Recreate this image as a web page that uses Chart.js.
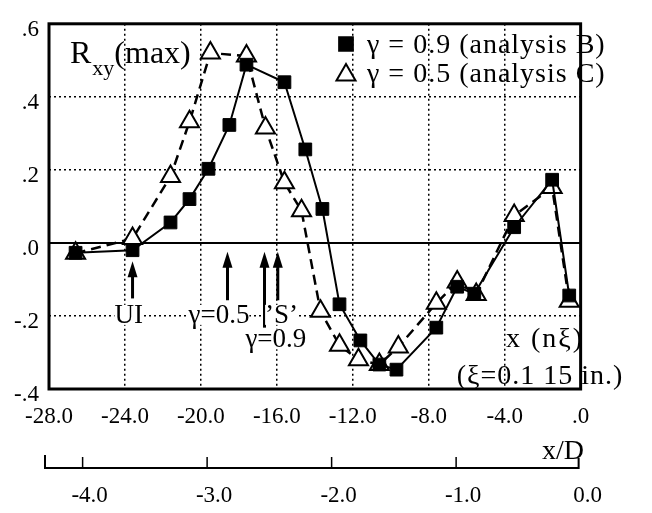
<!DOCTYPE html>
<html>
<head>
<meta charset="utf-8">
<script src="https://cdn.jsdelivr.net/npm/chart.js@4"></script>
<style>
  body { margin: 0; background: #fff; }
  canvas { display: block; }
</style>
</head>
<body>
<canvas id="chart" width="652" height="513"></canvas>
<script>
// gamma = 0.9 (analysis B), filled squares, solid line
const xB = [-26.6, -23.6, -21.6, -20.6, -19.6, -18.5, -17.6, -15.6, -14.5, -13.6, -12.7, -11.6, -10.6, -9.7, -7.6, -6.5, -5.6, -3.5, -1.5, -0.6];
const yB = [-0.027, -0.02, 0.056, 0.12, 0.203, 0.323, 0.488, 0.44, 0.256, 0.093, -0.168, -0.267, -0.333, -0.347, -0.232, -0.12, -0.139, 0.043, 0.173, -0.144];

// gamma = 0.5 (analysis C), open triangles, dashed line
const xC = [-26.6, -23.6, -21.6, -20.6, -19.5, -17.6, -16.6, -15.6, -14.7, -13.7, -12.7, -11.7, -10.6, -9.6, -7.6, -6.5, -5.5, -3.5, -1.5, -0.6];
const yC = [-0.028, 0.012, 0.182, 0.332, 0.52, 0.512, 0.315, 0.165, 0.088, -0.187, -0.28, -0.32, -0.333, -0.285, -0.165, -0.107, -0.141, 0.075, 0.152, -0.16];

const seriesLabels = ['γ = 0.9 (analysis B)', 'γ = 0.5 (analysis C)'];

// arrows below the zero line (x position, tip y, tail y) and their captions
const arrowX = [-23.6, -18.6, -16.65, -15.95];
const arrowTip = [-0.05, -0.024, -0.024, -0.024];
const arrowTail = [-0.152, -0.157, -0.232, -0.157];
const noteText = ['UI', 'γ=0.5', '’S’', 'γ=0.9'];
const noteX = [-23.8, -19.05, -15.75, -16.05];
const noteY = [-0.197, -0.197, -0.197, -0.264];

// second axis x/D
const xdMin = -4.27;
const xdMax = 0;

const serif = "'Liberation Serif', 'Times New Roman', serif";
Chart.defaults.font.family = serif;
Chart.defaults.font.size = 23;
Chart.defaults.color = '#000';

const near = (a, b) => Math.abs(a - b) < 1e-6;

function fmtY(v) {
    if (near(v, 0)) return '.0';
    return v.toFixed(1).replace(/^(-?)0\./, '$1.');
}

const extras = {
    id: 'extras',
    afterDatasetsDraw(chart) {
        const ctx = chart.ctx;
        const x = chart.scales.x, y = chart.scales.y, xd = chart.scales.x2;
        const a = chart.chartArea;
        ctx.save();
        ctx.fillStyle = '#000';
        ctx.strokeStyle = '#000';

        // frame
        ctx.lineWidth = 3;
        ctx.strokeRect(a.left, a.top, a.right - a.left, a.bottom - a.top);

        // R_xy(max)
        ctx.textBaseline = 'alphabetic';
        ctx.textAlign = 'left';
        ctx.font = '32px ' + serif;
        ctx.fillText('R', 70, 63);
        let w = ctx.measureText('R').width + 1;
        ctx.font = '22px ' + serif;
        ctx.fillText('xy', 70 + w, 75);
        w += ctx.measureText('xy').width;
        ctx.font = '32px ' + serif;
        ctx.fillText('(max)', 70 + w, 63);

        // legend
        ctx.font = '28px ' + serif;
        ctx.letterSpacing = '1px';
        ctx.fillText(seriesLabels[0], 367, 53);
        ctx.fillText(seriesLabels[1], 367, 82);
        ctx.letterSpacing = '0px';
        Chart.helpers.drawPoint(ctx, {pointStyle: 'rect', radius: 9, borderWidth: 1}, 346, 44);
        ctx.fill();
        ctx.lineWidth = 2;
        ctx.fillStyle = '#fff';
        Chart.helpers.drawPoint(ctx, {pointStyle: 'triangle', radius: 11, borderWidth: 2}, 346, 75);
        ctx.fillStyle = '#000';

        // arrows
        ctx.lineWidth = 3;
        arrowX.forEach((v, i) => {
            const px = x.getPixelForValue(v);
            const tip = y.getPixelForValue(arrowTip[i]);
            const tail = y.getPixelForValue(arrowTail[i]);
            ctx.beginPath();
            ctx.moveTo(px, tail);
            ctx.lineTo(px, tip + 10);
            ctx.stroke();
            ctx.beginPath();
            ctx.moveTo(px, tip);
            ctx.lineTo(px - 5, tip + 16);
            ctx.lineTo(px + 5, tip + 16);
            ctx.closePath();
            ctx.fill();
        });
        ctx.font = '27px ' + serif;
        ctx.textAlign = 'center';
        ctx.textBaseline = 'middle';
        noteText.forEach((t, i) => {
            const px = x.getPixelForValue(noteX[i]);
            const py = y.getPixelForValue(noteY[i]);
            ctx.fillStyle = '#fff';
            const tw = ctx.measureText(t).width;
            ctx.fillRect(px - tw / 2, py - 10, tw, 20);
            ctx.fillStyle = '#000';
            ctx.fillText(t, px, py + 1);
        });

        // axis captions inside the plot
        ctx.font = '28px ' + serif;
        ctx.letterSpacing = '2px';
        ctx.fillText('x (nξ)', 545, 340);
        ctx.letterSpacing = '1px';
        ctx.fillText('(ξ=0.1 15 in.)', 540, 377);
        ctx.letterSpacing = '0px';

        // x/D bracket
        const by = xd.top + 43;
        const l = xd.getPixelForValue(xdMin) - 4;
        const r = xd.getPixelForValue(xdMax) - 2;
        ctx.lineWidth = 2;
        ctx.beginPath();
        ctx.moveTo(l, by - 13);
        ctx.lineTo(l, by);
        ctx.lineTo(r, by);
        ctx.lineTo(r, by - 10);
        ctx.stroke();
        ctx.lineWidth = 1.5;
        xd.ticks.forEach(t => {
            if (near(t.value, xdMax)) return;
            const px = xd.getPixelForValue(t.value);
            ctx.beginPath();
            ctx.moveTo(px, by);
            ctx.lineTo(px, by - 11);
            ctx.stroke();
        });
        ctx.font = '28px ' + serif;
        ctx.fillText('x/D', 563, 452);
        ctx.restore();
    }
};

new Chart(document.getElementById('chart'), {
    type: 'line',
    data: {
        datasets: [
            {
                label: seriesLabels[0],
                data: xB.map((v, i) => ({x: v, y: yB[i]})),
                borderColor: '#000',
                borderWidth: 2,
                pointStyle: 'rect',
                pointRadius: 9,
                pointBackgroundColor: '#000',
                pointBorderColor: '#000',
                pointBorderWidth: 1,
                tension: 0
            },
            {
                label: seriesLabels[1],
                data: xC.map((v, i) => ({x: v, y: yC[i]})),
                borderColor: '#000',
                borderWidth: 2.5,
                borderDash: [10, 6],
                pointStyle: 'triangle',
                pointRadius: 11,
                pointBackgroundColor: '#fff',
                pointBorderColor: '#000',
                pointBorderWidth: 2,
                tension: 0
            }
        ]
    },
    options: {
        responsive: false,
        animation: false,
        layout: { padding: { left: 0, top: 13, right: 25, bottom: 0 } },
        plugins: {
            legend: { display: false },
            tooltip: { enabled: false }
        },
        scales: {
            x: {
                type: 'linear',
                position: 'bottom',
                min: -28,
                max: 0,
                afterFit: s => { s.height = 36; },
                ticks: {
                    stepSize: 4,
                    includeBounds: false,
                    padding: 14,
                    maxRotation: 0,
                    callback: v => near(v, 0) ? '.0' : v.toFixed(1)
                },
                grid: {
                    drawTicks: false,
                    color: '#000',
                    lineWidth: c => (near(c.tick.value, -28) || near(c.tick.value, 0)) ? 0 : 1.5
                },
                border: { display: false, dash: [2, 3] }
            },
            x2: {
                type: 'linear',
                position: 'bottom',
                min: xdMin,
                max: xdMax,
                afterFit: s => { s.height = 88; },
                ticks: {
                    stepSize: 1,
                    includeBounds: false,
                    padding: 57,
                    labelOffset: 7,
                    maxRotation: 0,
                    callback: v => v.toFixed(1)
                },
                grid: { display: false, drawTicks: false },
                border: { display: false }
            },
            y: {
                type: 'linear',
                min: -0.4,
                max: 0.6,
                afterFit: s => { s.width = 49; },
                ticks: {
                    stepSize: 0.2,
                    includeBounds: false,
                    padding: 10,
                    labelOffset: 6,
                    callback: v => fmtY(v)
                },
                grid: {
                    drawTicks: false,
                    color: '#000',
                    lineWidth: c => (near(c.tick.value, -0.4) || near(c.tick.value, 0.6)) ? 0 : (near(c.tick.value, 0) ? 2 : 1.5)
                },
                border: {
                    display: false,
                    dash: c => near(c.tick.value, 0) ? [] : [2, 3]
                }
            }
        }
    },
    plugins: [extras]
});
</script>
</body>
</html>
